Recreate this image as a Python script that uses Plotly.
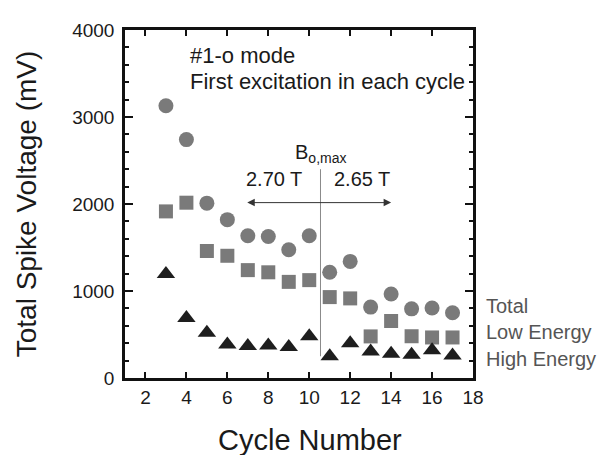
import plotly.graph_objects as go

cycles = [3, 4, 5, 6, 7, 8, 9, 10, 11, 12, 13, 14, 15, 16, 17]
total = [3130, 2740, 2010, 1820, 1635, 1627, 1475, 1635, 1215, 1340, 815, 965, 795, 805, 750]
low_energy = [1915, 2015, 1460, 1405, 1240, 1215, 1105, 1125, 930, 915, 478, 655, 480, 466, 466]
high_energy = [1195, 690, 520, 386, 367, 374, 355, 480, 250, 400, 306, 280, 268, 318, 260]

x_ticks = [2, 4, 6, 8, 10, 12, 14, 16, 18]
y_ticks = [0, 1000, 2000, 3000, 4000]

FONT = "Liberation Sans, Arial, sans-serif"
TXT = "#1a1a1a"

fig = go.Figure()
fig.add_trace(go.Scatter(x=cycles, y=total, mode="markers", name="Total",
                         marker=dict(symbol="circle", size=15, color="#7a7a7a")))
fig.add_trace(go.Scatter(x=cycles, y=low_energy, mode="markers", name="Low Energy",
                         marker=dict(symbol="square", size=14, color="#7a7a7a")))
fig.add_trace(go.Scatter(x=cycles, y=high_energy, mode="markers", name="High Energy",
                         marker=dict(symbol="triangle-up", size=16, color="#1e1e1e")))

# vertical divider
fig.add_shape(type="line", x0=10.55, x1=10.55, y0=250, y1=2400,
              line=dict(color="#8a8a8a", width=1))

# double arrow
fig.add_annotation(x=14.0, y=2016, ax=6.9, ay=2016, xref="x", yref="y",
                   axref="x", ayref="y", text="", showarrow=True,
                   arrowhead=2, startarrowhead=2, arrowside="end+start",
                   arrowsize=1.5, startarrowsize=1.5, arrowwidth=1, arrowcolor="#333")

fig.add_annotation(x=10.55, y=2580, xref="x", yref="y", text="B<sub>o,max</sub>",
                   showarrow=False, font=dict(family=FONT, size=20, color=TXT))
fig.add_annotation(x=8.3, y=2290, xref="x", yref="y", text="2.70 T",
                   showarrow=False, font=dict(family=FONT, size=20, color=TXT))
fig.add_annotation(x=12.6, y=2290, xref="x", yref="y", text="2.65 T",
                   showarrow=False, font=dict(family=FONT, size=20, color=TXT))

fig.add_annotation(x=4.06, y=3710, xref="x", yref="y", text="#1-o mode",
                   showarrow=False, xanchor="left", yanchor="middle",
                   font=dict(family=FONT, size=22, color=TXT))
fig.add_annotation(x=4.06, y=3410, xref="x", yref="y", text="First excitation in each cycle",
                   showarrow=False, xanchor="left", yanchor="middle",
                   font=dict(family=FONT, size=22, color=TXT))

for txt, yp in [("Total", 0.208), ("Low Energy", 0.131), ("High Energy", 0.054)]:
    fig.add_annotation(x=1.033, y=yp, xref="paper", yref="paper", text=txt,
                       showarrow=False, xanchor="left", yanchor="middle",
                       font=dict(family=FONT, size=20, color="#555"))

# x-axis title
fig.add_annotation(x=0.532, y=-0.177, xref="paper", yref="paper", text="Cycle Number",
                   showarrow=False, xanchor="center", yanchor="middle",
                   font=dict(family=FONT, size=29, color=TXT))

fig.update_layout(
    width=601, height=447,
    margin=dict(l=117, r=136, t=19, b=77),
    plot_bgcolor="white", paper_bgcolor="white",
    showlegend=False,
    font=dict(family=FONT, color=TXT),
)
fig.update_xaxes(range=[1, 18], tickvals=x_ticks, ticks="inside", ticklen=6,
                 tickwidth=2, tickcolor="#111", showline=True, linewidth=2.5,
                 linecolor="#111", mirror="allticks", showgrid=False, zeroline=False,
                 tickfont=dict(size=19, family=FONT))
fig.update_yaxes(range=[0, 4000], tickvals=y_ticks, ticks="inside", ticklen=8,
                 tickwidth=2, tickcolor="#111", showline=True, linewidth=2.5,
                 linecolor="#111", mirror="allticks", showgrid=False, zeroline=False,
                 tickfont=dict(size=19, family=FONT), ticklabelstandoff=4,
                 minor=dict(dtick=200, ticks="inside", ticklen=4, tickwidth=1.5, tickcolor="#111"),
                 title=dict(text="Total Spike Voltage (mV)", font=dict(size=28, family=FONT), standoff=28))

fig.write_html("out.html")
